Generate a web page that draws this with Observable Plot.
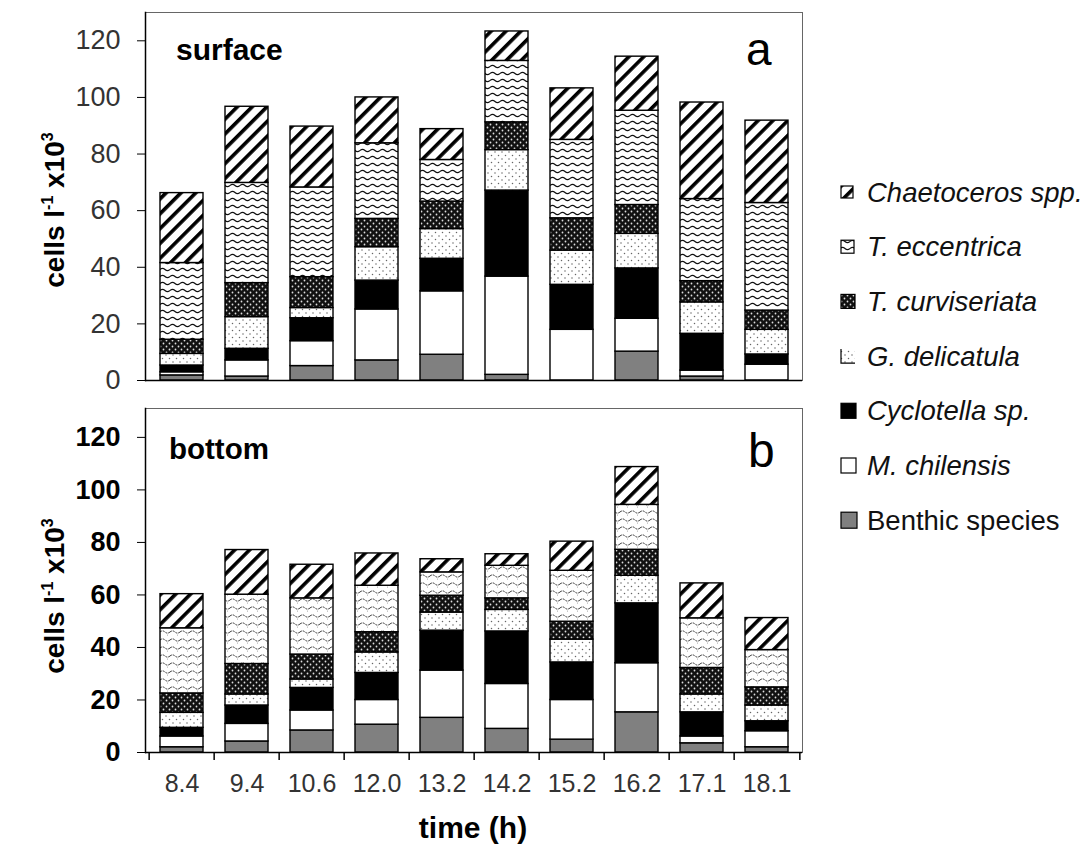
<!DOCTYPE html>
<html><head><meta charset="utf-8">
<script src="https://cdn.jsdelivr.net/npm/d3@7"></script>
<script src="https://cdn.jsdelivr.net/npm/@observablehq/plot@0.6"></script>
<style>
body{margin:0;background:#fff;}
#wrap{position:relative;width:1085px;height:850px;font-family:"Liberation Sans",Arial,sans-serif;}
#wrap svg{position:absolute;left:0;overflow:visible;max-width:none;}
</style></head><body><div id="wrap"></div>
<script>
// ---- data ----
const times = ["8.4","9.4","10.6","12.0","13.2","14.2","15.2","16.2","17.1","18.1"];
const species = ["Benthic species","M. chilensis","Cyclotella sp.","G. delicatula","T. curviseriata","T. eccentrica","Chaetoceros spp."];
const yTicks = [0,20,40,60,80,100,120];

// surface (cells l-1 x10^3)
const surfBenthic       = [1.8,1.4,5.1,7.1,9.1,2.0,0,10.2,1.4,0];
const surfMchilensis    = [1.1,5.7,8.8,18.0,22.4,34.7,17.9,11.6,2.1,5.6];
const surfCyclotella    = [2.4,4.1,8.1,10.2,11.5,30.4,15.9,17.8,13.0,3.6];
const surfGdelicatula   = [4.1,11.2,3.6,11.8,10.5,14.3,12.1,12.2,11.1,8.7];
const surfTcurviseriata = [5.0,12.0,10.9,10.0,9.7,9.8,11.4,10.2,7.5,6.8];
const surfTeccentrica   = [27.1,35.4,31.7,26.7,14.7,21.7,27.7,33.3,29.0,38.0];
const surfChaetoceros   = [24.7,26.9,21.5,16.2,10.9,10.4,18.2,19.1,34.1,29.1];

// bottom
const botBenthic       = [2.0,4.2,8.4,10.6,13.2,9.0,4.9,15.3,3.5,2.0];
const botMchilensis    = [4.1,6.7,7.6,9.4,18.0,17.1,15.1,18.7,2.6,6.1];
const botCyclotella    = [3.3,7.0,8.6,10.3,15.2,20.0,14.3,22.8,9.2,3.8];
const botGdelicatula   = [5.7,4.2,3.2,7.8,6.9,8.2,8.7,10.5,6.8,6.0];
const botTcurviseriata = [7.4,11.6,9.5,7.7,6.4,4.4,6.8,9.9,10.1,6.9];
const botTeccentrica   = [24.8,26.4,21.4,17.7,8.9,12.4,19.4,17.1,18.9,14.2];
const botChaetoceros   = [13.0,17.0,12.8,12.3,5.0,4.4,11.1,14.4,13.3,12.2];

const fillsTop = ["#808080","#ffffff","#000000","url(#gdel)","url(#curv)","url(#eccA)","url(#hatch)"];
const fillsBot = ["#808080","#ffffff","#000000","url(#gdel)","url(#curv)","url(#eccB)","url(#hatch)"];

function rows(arrs) {
  return species.flatMap((s, i) => times.map((t, j) => ({time: t, species: s, value: arrs[i][j]})));
}
const surfData = rows([surfBenthic,surfMchilensis,surfCyclotella,surfGdelicatula,surfTcurviseriata,surfTeccentrica,surfChaetoceros]);
const botData  = rows([botBenthic,botMchilensis,botCyclotella,botGdelicatula,botTcurviseriata,botTeccentrica,botChaetoceros]);

const wrap = document.getElementById("wrap");

// ---- pattern defs ----
const overlay = d3.create("svg").attr("width",1085).attr("height",850).style("top","0px").style("pointer-events","none");
const defs = overlay.append("defs");
const ph = defs.append("pattern").attr("id","hatch").attr("patternUnits","userSpaceOnUse").attr("width",10.5).attr("height",10.5).attr("patternTransform","rotate(45)");
ph.append("rect").attr("width",10.5).attr("height",10.5).attr("fill","#fff");
ph.append("rect").attr("width",3.6).attr("height",10.5).attr("fill","#000");
const pa = defs.append("pattern").attr("id","eccA").attr("patternUnits","userSpaceOnUse").attr("width",10).attr("height",7);
pa.append("rect").attr("width",10).attr("height",7).attr("fill","#fff");
pa.append("path").attr("d","M0,3.5 Q2.5,1.2 5,3.5 T10,3.5").attr("fill","none").attr("stroke","#111").attr("stroke-width",1.2);
const pb = defs.append("pattern").attr("id","eccB").attr("patternUnits","userSpaceOnUse").attr("width",10).attr("height",8);
pb.append("rect").attr("width",10).attr("height",8).attr("fill","#fff");
pb.append("path").attr("d","M0,4 Q2.5,1.8 5,4 T10,4").attr("fill","none").attr("stroke","#333").attr("stroke-width",1).attr("stroke-dasharray","2 1");
pb.append("circle").attr("cx",7.5).attr("cy",7).attr("r",0.5).attr("fill","#888");
const pc = defs.append("pattern").attr("id","curv").attr("patternUnits","userSpaceOnUse").attr("width",6).attr("height",6);
pc.append("rect").attr("width",6).attr("height",6).attr("fill","#111");
pc.append("circle").attr("cx",1.5).attr("cy",1.5).attr("r",0.9).attr("fill","#ddd");
pc.append("circle").attr("cx",4.5).attr("cy",4.5).attr("r",0.9).attr("fill","#ddd");
const pg = defs.append("pattern").attr("id","gdel").attr("patternUnits","userSpaceOnUse").attr("width",7).attr("height",7);
pg.append("rect").attr("width",7).attr("height",7).attr("fill","#fff");
pg.append("circle").attr("cx",1.5).attr("cy",1.5).attr("r",0.75).attr("fill","#666");
pg.append("circle").attr("cx",5).attr("cy",5).attr("r",0.75).attr("fill","#666");

const leftEdge = 145, rightEdge = 802;
const step = (rightEdge - leftEdge) / times.length;

function panel(data, fills, o) {
  return Plot.plot({
    width: 1085, height: o.height,
    marginLeft: leftEdge, marginRight: 1085 - rightEdge, marginTop: 12, marginBottom: o.mb,
    style: {background: "transparent", fontFamily: "Liberation Sans, Arial, sans-serif", color: "#000"},
    x: {domain: times, paddingInner: 0.345, paddingOuter: 0.1725, axis: null},
    y: {domain: [0, o.ymax], axis: null},
    color: {domain: species, range: fills},
    marks: [
      Plot.frame({stroke: "#666", strokeWidth: 1}),
      Plot.barY(data.filter(d => d.value > 0), Plot.stackY({x: "time", y: "value", fill: "species", order: species, stroke: "#000", strokeWidth: 1.4})),
      Plot.ruleY([0], {stroke: "#000", strokeWidth: 1.5}),
      Plot.frame({anchor: "left", stroke: "#000", strokeWidth: 1.5}),
      Plot.axisY({ticks: yTicks, tickSize: 8, tickPadding: 17, fontSize: o.yFont, fontWeight: o.yWeight, label: null, fill: o.yColor}),
      ...(o.xaxis ? [
        Plot.axisX({tickSize: 0, tickPadding: 22, fontSize: 25, label: null, fill: "#333"}),
        Plot.ruleX(times, {x: d => d, dx: -step / 2, y1: 0, y2: -3, stroke: "#000", strokeWidth: 1.5}),
        Plot.ruleX([times[times.length - 1]], {x: d => d, dx: step / 2, y1: 0, y2: -3, stroke: "#000", strokeWidth: 1.5})
      ] : [])
    ]
  });
}

const topPanel = panel(surfData, fillsTop, {height: 396, mb: 16, ymax: 130, yFont: 27, yWeight: "normal", yColor: "#333", xaxis: false});
topPanel.style.top = "0px";
wrap.appendChild(topPanel);
const botPanel = panel(botData, fillsBot, {height: 454, mb: 98, ymax: 131, yFont: 27, yWeight: "bold", yColor: "#000", xaxis: true});
botPanel.style.top = "396px";
wrap.appendChild(botPanel);

// ---- annotations ----
const ff = "Liberation Sans, Arial, sans-serif";
function ylabel(cy) {
  const t = overlay.append("text").attr("transform", `translate(64,${cy}) rotate(-90)`)
    .attr("text-anchor","middle").attr("font-family",ff).attr("font-weight","bold").attr("font-size",28);
  t.append("tspan").text("cells l");
  t.append("tspan").attr("dy",-11).attr("font-size",16).text("-1");
  t.append("tspan").attr("dy",11).text(" x10");
  t.append("tspan").attr("dy",-11).attr("font-size",16).text("3");
}
ylabel(210);
ylabel(596);
overlay.append("text").attr("x",176).attr("y",60).attr("font-family",ff).attr("font-weight","bold").attr("font-size",30).text("surface");
overlay.append("text").attr("x",169).attr("y",459).attr("font-family",ff).attr("font-weight","bold").attr("font-size",29.5).text("bottom");
overlay.append("text").attr("x",746).attr("y",65).attr("font-family",ff).attr("font-size",46).text("a");
overlay.append("text").attr("x",748).attr("y",467).attr("font-family",ff).attr("font-size",48).text("b");
overlay.append("text").attr("x",473).attr("y",838).attr("text-anchor","middle").attr("font-family",ff).attr("font-weight","bold").attr("font-size",30).text("time (h)");

// legend (top to bottom)
const legendItems = [
  {name: "Chaetoceros spp.", fill: "url(#hatch)", italic: true, size: 12},
  {name: "T. eccentrica", fill: "url(#eccA)", italic: true, size: 13},
  {name: "T. curviseriata", fill: "url(#curv)", italic: true, size: 14},
  {name: "G. delicatula", fill: "url(#gdel)", italic: true, lshape: true, size: 14},
  {name: "Cyclotella sp.", fill: "#000", italic: true, size: 15},
  {name: "M. chilensis", fill: "#fff", italic: true, size: 15},
  {name: "Benthic species", fill: "#808080", italic: false, size: 16}
];
legendItems.forEach((it, i) => {
  const cy = 192 + i * 54.7;
  const s = it.size, x0 = 841, y0 = cy - s / 2;
  const g = overlay.append("g");
  if (it.lshape) {
    g.append("rect").attr("x",x0).attr("y",y0).attr("width",s).attr("height",s).attr("fill",it.fill);
    g.append("path").attr("d",`M${x0},${y0} V${y0+s} H${x0+s}`).attr("fill","none").attr("stroke","#000").attr("stroke-width",1.2);
  } else {
    g.append("rect").attr("x",x0).attr("y",y0).attr("width",s).attr("height",s).attr("fill",it.fill).attr("stroke","#000").attr("stroke-width",1.2);
  }
  g.append("text").attr("x",867).attr("y",cy+9.5).attr("font-family",ff).attr("font-size",27.5)
    .attr("font-style", it.italic ? "italic" : "normal").attr("fill","#111").text(it.name);
});
wrap.appendChild(overlay.node());
</script></body></html>
